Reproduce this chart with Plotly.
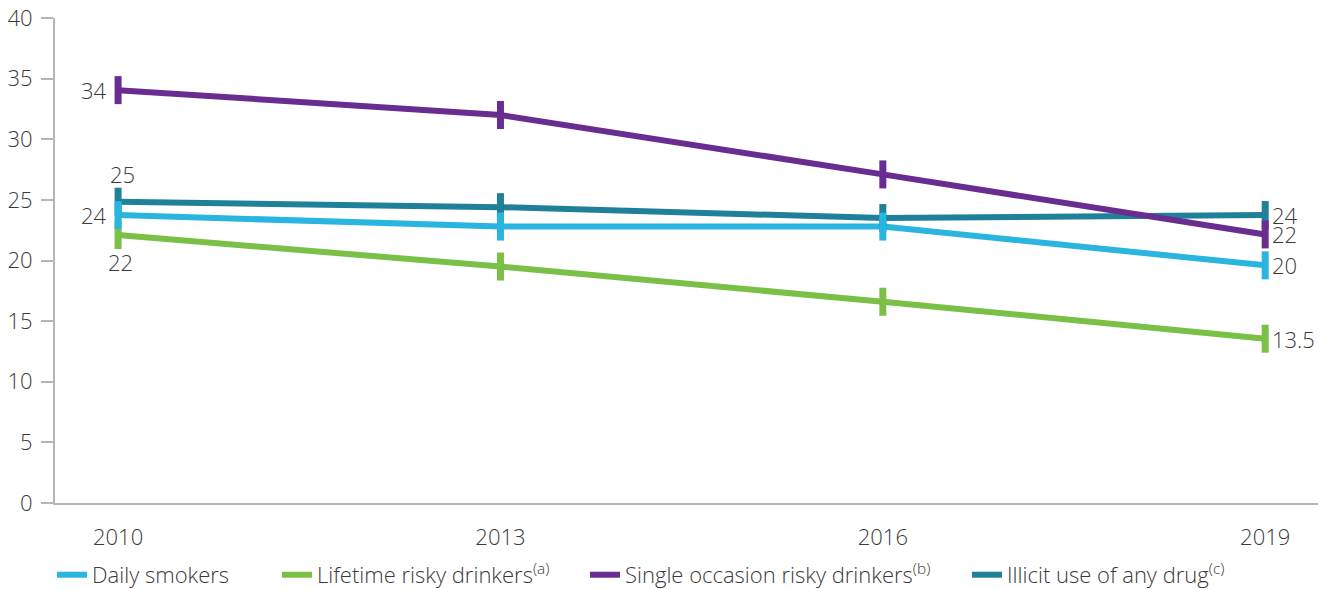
import plotly.graph_objects as go

years = [2010, 2013, 2016, 2019]
daily_smokers = [23.75, 22.8, 22.8, 19.6]
lifetime_risky = [22.1, 19.5, 16.6, 13.55]
single_occasion = [34.05, 32.0, 27.1, 22.15]
illicit_drug = [24.85, 24.4, 23.5, 23.75]

series_names = ["Daily smokers", "Lifetime risky drinkers<sup>(a)</sup>",
                "Single occasion risky drinkers<sup>(b)</sup>", "Illicit use of any drug<sup>(c)</sup>"]
colors = ["#2ab4e0", "#7abf46", "#692c90", "#20809a"]
series_values = [daily_smokers, lifetime_risky, single_occasion, illicit_drug]

start_labels = [("34", 2), ("25", 3), ("24", 0), ("22", 1)]
end_labels = [("24", 3), ("22", 2), ("20", 0), ("13.5", 1)]

# page body has an 8px margin; figure is sized/offset to compensate
W, H = 1318, 581
ML, MR, MT, MB = 47, 6, 10, 86
PW = W - ML - MR

legend_ids = ["legend", "legend2", "legend3", "legend4"]
legend_px = [50, 275, 583, 965]  # symbol start in figure px

fig = go.Figure()
draw_order = [3, 1, 0, 2]
for i in draw_order:
    fig.add_trace(go.Scatter(
        x=years, y=series_values[i], name=series_names[i], mode="lines",
        line=dict(color=colors[i], width=6), legend=legend_ids[i],
    ))
for i in draw_order:
    fig.add_trace(go.Scatter(
        x=years, y=series_values[i], name=series_names[i], mode="markers", showlegend=False,
        marker=dict(symbol="line-ns", size=20, color=colors[i], line=dict(color=colors[i], width=7)),
    ))

FS = 22
font_txt = dict(family="Open Sans", size=FS, color="#3a3a3a", weight=300)
start_offsets = {2: (-9, 0, "right"), 3: (4, 28, "center"), 0: (-9, 0, "right"), 1: (2, -27, "center")}
for txt, si in start_labels:
    dx, dy, anc = start_offsets[si]
    fig.add_annotation(x=years[0], y=series_values[si][0], text=txt, showarrow=False,
                       xanchor=anc, yanchor="middle", xshift=dx, yshift=dy, font=font_txt)
for txt, si in end_labels:
    fig.add_annotation(x=years[-1], y=series_values[si][-1], text=txt, showarrow=False,
                       xanchor="left", yanchor="middle", xshift=5, yshift=0, font=font_txt)

fig.add_shape(type="line", xref="paper", yref="paper", x0=-12/PW, x1=0, y0=0, y1=0,
              line=dict(color="#b5b5b5", width=2))

legend_common = dict(orientation="h", xanchor="left", y=-0.105, yanchor="top",
                     font=dict(size=FS, family="Open Sans", color="#3a3a3a", weight=300),
                     itemwidth=30, bgcolor="rgba(0,0,0,0)")
layout_legends = {}
for lid, px in zip(legend_ids, legend_px):
    layout_legends[lid] = dict(x=(px - 6 - ML) / PW, **legend_common)

fig.update_layout(
    width=W, height=H,
    margin=dict(l=ML, r=MR, t=MT, b=MB, autoexpand=False),
    paper_bgcolor="white", plot_bgcolor="white",
    font=dict(family="Open Sans", size=FS, color="#3a3a3a", weight=300),
    showlegend=True,
    **layout_legends,
)
fig.update_xaxes(range=[2009.505, 2019.43], tickvals=years, ticktext=[str(y) for y in years],
                 showgrid=False, zeroline=False, showline=True, linecolor="#b5b5b5", linewidth=2,
                 ticks="", ticklabelstandoff=14, tickfont=dict(size=FS), automargin=False,
                 ticklabeloverflow="allow")
fig.update_yaxes(range=[0, 40], dtick=5, showgrid=False, zeroline=False, showline=True,
                 linecolor="#b5b5b5", linewidth=2, ticks="outside", ticklen=12, tickcolor="#b5b5b5",
                 tickwidth=2, ticklabelstandoff=4, tickfont=dict(size=FS), automargin=False,
                 ticklabeloverflow="allow")

fig.write_html("out.html")
